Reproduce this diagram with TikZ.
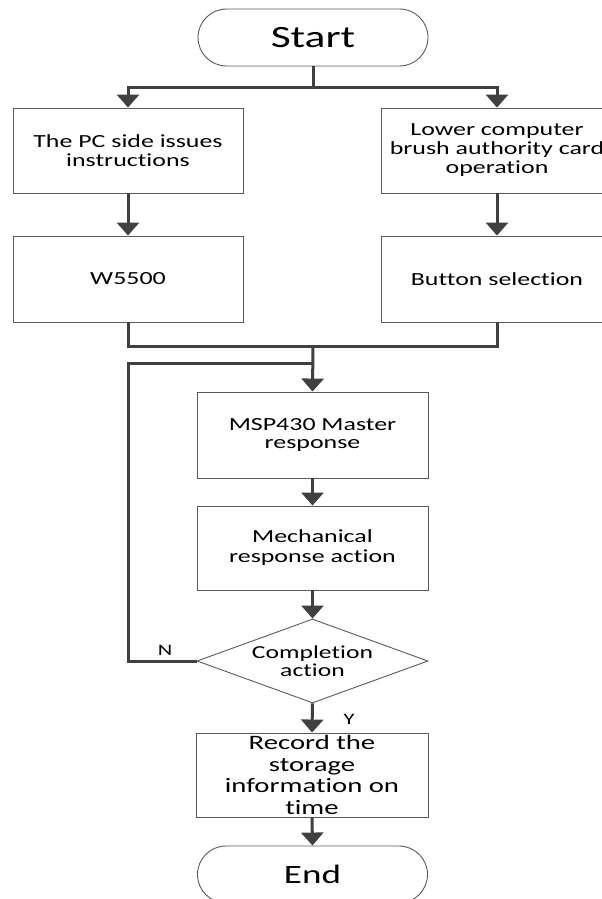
\documentclass[tikz,border=0pt]{standalone}
\usepackage{fontspec}
\setmainfont{Carlito}[FakeStretch=1.4, Ligatures={NoCommon}]
\usetikzlibrary{arrows.meta,shapes.geometric}
\definecolor{conn}{HTML}{404040}
\definecolor{bord}{HTML}{5A5A5A}
\begin{document}
\begin{tikzpicture}[x=1pt,y=-1pt,
  box/.style={draw=bord, line width=0.9pt, inner sep=0pt, align=center,
    minimum width=230pt, minimum height=85pt,
    font=\fontsize{18.5}{19}\selectfont},
  lbox/.style={draw=bord, line width=0.9pt, inner sep=0pt, align=center,
    minimum width=231pt, minimum height=85pt,
    font=\fontsize{18.5}{18.5}\selectfont},
  term/.style={draw=bord, line width=0.9pt, inner sep=0pt,
    minimum width=230pt, minimum height=57pt, rounded corners=28.5pt},
  dia/.style={draw=bord, line width=0.9pt, diamond, aspect=2.75, inner sep=0pt,
    minimum width=231pt, minimum height=84pt},
  lbl/.style={font=\fontsize{16}{16}\selectfont, inner sep=0pt},
  line/.style={draw=conn, line width=3pt},
  arr/.style={line, -{Triangle[width=22pt,length=13pt]}}]
\useasboundingbox (0,0) rectangle (602,899);

\node[term, font=\fontsize{31}{31}\selectfont] (start) at (313,37.5) {Start};
\node[box] (pc) at (128,150.5) {The PC side issues\\instructions};
\node[box, minimum width=232pt] (lower) at (497,150.5) {Lower computer\\brush authority card\\operation};
\node[box, minimum height=86pt] (w5500) at (128,279) {W5500};
\node[box, minimum width=232pt, minimum height=86pt] (button) at (497,279) {Button selection};
\node[lbox, minimum height=86pt, font=\fontsize{18.5}{18}\selectfont] (msp) at (312.5,435) {MSP430 Master\\response};
\node[lbox, minimum height=84pt, font=\fontsize{18.5}{20}\selectfont] (mech) at (312.5,548) {Mechanical\\response action};
\node[dia] (dec) at (312.5,661) {};
\node[align=center, inner sep=0pt, font=\fontsize{18.3}{18}\selectfont] (dectext) at (dec.center) {Completion\\action};
\node[lbox, minimum width=232pt, minimum height=84pt, font=\fontsize{20.5}{21.7}\selectfont] (record) at (312,775) {Record the\\storage\\information on\\time};
\node[term, font=\fontsize{26.5}{26.5}\selectfont] (end) at (312.5,874.5) {End};

\node[lbl] (nlabel) at (165,650) {N};
\node[lbl] (ylabel) at (349,719) {Y};

\coordinate (split) at (313,87);
\draw[line] (start.south) -- (split);
\draw[arr] (split) -| (pc.north);
\draw[arr] (split) -| (lower.north);

\coordinate (merge) at (313,346);
\draw[line] (w5500.south) |- (merge);
\draw[line] (button.south) |- (merge);
\draw[arr] (merge) -- (msp.north);

\draw[arr] (pc.south) -- (w5500.north);
\draw[arr] (lower.south) -- (button.north);
\draw[arr] (msp.south) -- (mech.north);
\draw[arr] (mech.south) -- (dec.north);
\draw[arr] (dec.south) -- (record.north);
\draw[arr] (record.south) -- (end.north);

\coordinate (loopcorner) at (128,363);
\coordinate (loopin) at (313,363);
\draw[line] (dec.west) -| (loopcorner) -- (loopin);
\end{tikzpicture}
\end{document}
